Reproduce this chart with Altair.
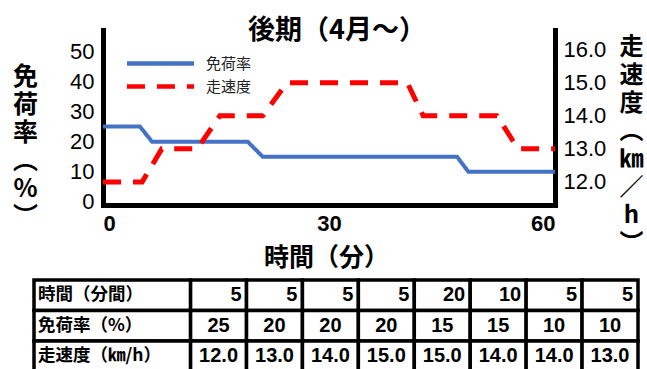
import altair as alt
import pandas as pd

# ---- data -------------------------------------------------------------
series_names = ["免荷率", "走速度"]

# body-weight support (%) across the session: vertices (minute, value)
unload_min = [0, 4.9, 6.5, 19.2, 21.2, 47.0, 48.5, 60]
unload_pct = [25, 25, 20, 20, 15, 15, 10, 10]

# treadmill speed (km/h) across the session: vertices (minute, value)
speed_min = [0, 5.2, 7.8, 12.5, 15.5, 21.2, 24.4, 40.4, 42.5, 52.3, 55.1, 60]
speed_kmh = [12.0, 12.0, 13.0, 13.0, 14.0, 14.0, 15.0, 15.0, 14.0, 14.0, 13.0, 13.0]

# protocol table
row_labels = ["時間（分間）", "免荷率（%）", "走速度（㎞/h）"]
stage_minutes = [5, 5, 5, 5, 20, 10, 5, 5]
stage_unload = [25, 20, 20, 20, 15, 15, 10, 10]
stage_speed = [12.0, 13.0, 14.0, 15.0, 15.0, 14.0, 14.0, 13.0]

left_ticks = [0, 10, 20, 30, 40, 50]
right_ticks = [12, 13, 14, 15, 16]
time_ticks = [0, 30, 60]

# ---- style / layout ---------------------------------------------------
W, H = 452, 175
JP = "Noto Sans CJK JP"
NUM = "Liberation Sans, Arial, sans-serif"
NARROW = "Liberation Sans Narrow, Arial Narrow, Liberation Sans, sans-serif"
BLUE, RED = "#4472C4", "#FF0000"
LABEL_SPAN = 2.8          # header column width, in units of one stage column
TABLE_X = [-69, 535]      # table extent relative to the plot origin
TABLE_Y = [250, 341.5]

unload_df = pd.DataFrame({"t": unload_min, "v": unload_pct, "series": series_names[0]})
speed_df = pd.DataFrame({"t": speed_min, "v": speed_kmh, "series": series_names[1]})

# long flat legend swatch: a wide horizontal segment in the unit symbol box
legend = alt.Legend(
    title=None, orient="none", legendX=44, legendY=20, direction="vertical",
    symbolType="M-3,0H3", symbolSize=500, symbolStrokeWidth=4.5,
    labelFont=JP, labelFontSize=15, labelColor="#222222", labelOffset=32,
    rowPadding=-1, padding=0,
)
color = alt.Color("series:N", scale=alt.Scale(domain=series_names, range=[BLUE, RED]), legend=legend)
dash = alt.StrokeDash("series:N", scale=alt.Scale(domain=series_names, range=[[1, 0], [18, 12]]), legend=legend)

time_scale = alt.Scale(domain=[0, 60], nice=False, zero=False)
axis_common = dict(ticks=False, grid=False, domainColor="black", domainWidth=5, domainCap="square",
                   labelColor="black", titleColor="black")

blue = alt.Chart(unload_df).mark_line(strokeWidth=4).encode(
    x=alt.X("t:Q", scale=time_scale, axis=alt.Axis(
        values=time_ticks, format="d", labelFont=NUM, labelFontSize=22, labelFontWeight="bold",
        labelPadding=8, title="時間（分）", titleFont=JP, titleFontSize=25, titleFontWeight="bold",
        titleAnchor="start", titleAlign="center", titleBaseline="middle", titleX=223, titleY=52,
        **axis_common)),
    y=alt.Y("v:Q", scale=alt.Scale(domain=[-1, 57], nice=False, zero=False), axis=alt.Axis(
        values=left_ticks, labelFont=NUM, labelFontSize=22, labelPadding=9,
        title=["免", "荷", "率", "︵", "%", "︶"], titleFont=JP, titleFontSize=25,
        titleFontWeight="bold", titleAngle=0, titleAlign="center", titleBaseline="top",
        titleLineHeight=28, titleX=-78, titleY=34, **axis_common)),
    color=color,
    strokeDash=dash,
)

red = alt.Chart(speed_df).mark_line(strokeWidth=5).encode(
    x=alt.X("t:Q", scale=time_scale, axis=None),
    y=alt.Y("v:Q", scale=alt.Scale(domain=[11.3, 16.6], nice=False, zero=False), axis=alt.Axis(
        orient="right", values=right_ticks, format=".1f", labelFont=NUM, labelFontSize=22,
        labelPadding=8, title=["走", "速", "度", "︵", "㎞", "／", "h", "︶"], titleFont=JP,
        titleFontSize=24, titleFontWeight="bold", titleAngle=0, titleAlign="center",
        titleBaseline="top", titleLineHeight=28, titleX=76, titleY=5, **axis_common)),
    color=color,
    strokeDash=dash,
)

# ---- protocol table ---------------------------------------------------
cells = []
for r, lab in enumerate(row_labels):
    cells.append(dict(r0=r, c0=0.0, c1=LABEL_SPAN, text=lab, kind="label"))
for j in range(len(stage_minutes)):
    c0 = LABEL_SPAN + j
    cells.append(dict(r0=0, c0=c0, c1=c0 + 1, text=str(stage_minutes[j]), kind="right"))
    cells.append(dict(r0=1, c0=c0, c1=c0 + 1, text=str(stage_unload[j]), kind="center"))
    cells.append(dict(r0=2, c0=c0, c1=c0 + 1, text=f"{stage_speed[j]:.1f}", kind="center"))
cell_df = pd.DataFrame(cells)
cell_df["r1"] = cell_df["r0"] + 1
cell_df["rm"] = cell_df["r0"] + 0.5
cell_df["cm"] = (cell_df["c0"] + cell_df["c1"]) / 2

tx = alt.Scale(domain=[0, LABEL_SPAN + len(stage_minutes)], range=TABLE_X, nice=False, zero=False)
ty = alt.Scale(domain=[0, 3], range=TABLE_Y, nice=False, zero=False)
base = alt.Chart(cell_df)

grid = base.mark_rect(fill="white", stroke="black", strokeWidth=3.5).encode(
    x=alt.X("c0:Q", scale=tx, axis=None), x2="c1",
    y=alt.Y("r0:Q", scale=ty, axis=None), y2="r1",
)
head_text = base.transform_filter(alt.datum.kind == "label").mark_text(
    align="left", baseline="middle", dx=4, font=JP, fontSize=17.5, fontWeight="bold", color="black"
).encode(x=alt.X("c0:Q", scale=tx, axis=None), y=alt.Y("rm:Q", scale=ty, axis=None), text="text:N")
right_text = base.transform_filter(alt.datum.kind == "right").mark_text(
    align="right", baseline="middle", dx=-5, font=NARROW, fontSize=20, fontWeight="bold", color="black"
).encode(x=alt.X("c1:Q", scale=tx, axis=None), y=alt.Y("rm:Q", scale=ty, axis=None), text="text:N")
center_text = base.transform_filter(alt.datum.kind == "center").mark_text(
    align="center", baseline="middle", font=NARROW, fontSize=20, fontWeight="bold", color="black"
).encode(x=alt.X("cm:Q", scale=tx, axis=None), y=alt.Y("rm:Q", scale=ty, axis=None), text="text:N")

table = alt.layer(grid, head_text, right_text, center_text)

chart = (
    alt.layer(blue, red, table)
    .resolve_scale(x="independent", y="independent")
    .properties(
        width=W, height=H,
        autosize=alt.AutoSizeParams(type="none"),
        padding={"left": 103, "top": 30, "right": 92, "bottom": 164},
        background="white",
        title=alt.TitleParams(
            "後期（4月〜）", font=JP, fontSize=27, fontWeight="bold", color="black",
            anchor="middle", frame="group", baseline="middle", offset=0, dx=8, dy=28,
        ),
    )
    .configure_view(stroke=None)
)

chart.save("out.html", embed_options={"renderer": "svg", "actions": False})
